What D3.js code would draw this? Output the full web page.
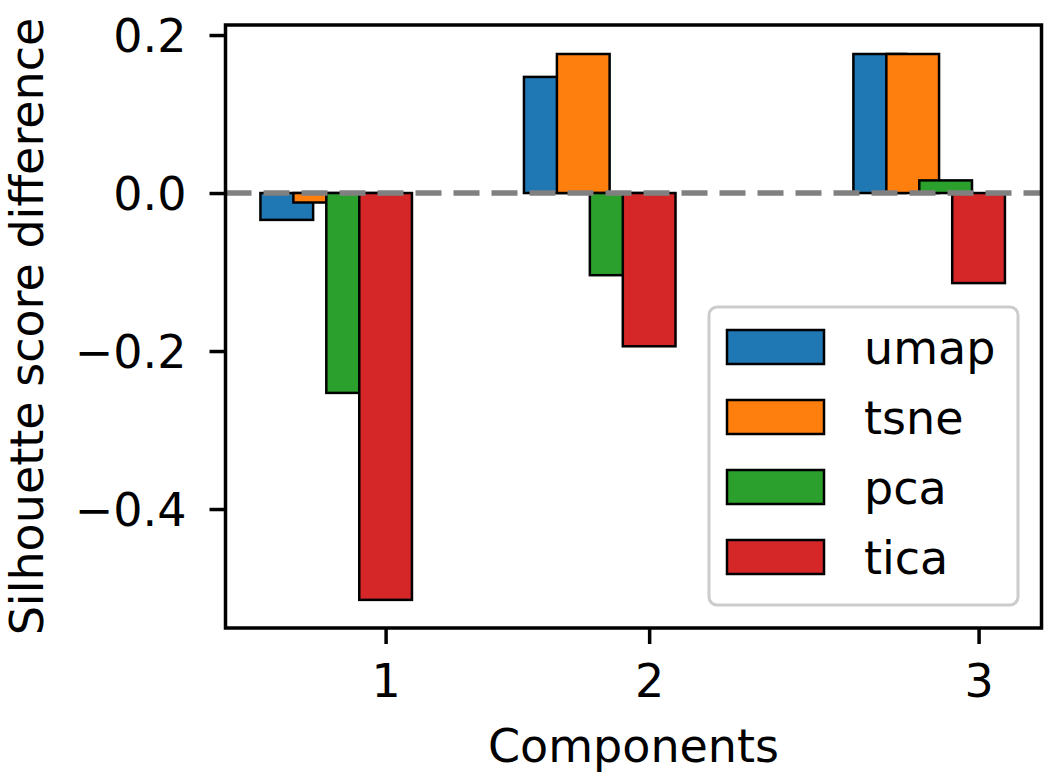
<!DOCTYPE html>
<html>
<head>
<meta charset="utf-8">
<script src="https://cdn.jsdelivr.net/npm/d3@7"></script>
<style>
  html, body { margin: 0; padding: 0; background: #fff; }
  svg { display: block; }
  text { font-family: "DejaVu Sans", sans-serif; fill: #000; }
</style>
</head>
<body>
<svg id="chart" width="1050" height="779"></svg>
<script>
// ---- data ----
const categories = ["1", "2", "3"];
const categoryPositions = [0, 4, 9];
const seriesNames = ["umap", "tsne", "pca", "tica"];
const seriesColors = ["#1f77b4", "#ff7f0e", "#2ca02c", "#d62728"];
const umapValues = [-0.034, 0.147, 0.176];
const tsneValues = [-0.012, 0.176, 0.176];
const pcaValues  = [-0.253, -0.104, 0.016];
const ticaValues = [-0.515, -0.194, -0.114];
const seriesValues = [umapValues, tsneValues, pcaValues, ticaValues];
const yTicks = [0.2, 0.0, -0.2, -0.4];

// ---- layout ----
const svg = d3.select("#chart");
const pL = 225.5, pR = 1041.5, pT = 25, pB = 628;
const barWidth = 0.8, barStep = 0.5;

const x = d3.scaleLinear().domain([-2.43, 9.955]).range([pL, pR]);
const y = d3.scaleLinear().domain([-0.5506, 0.2127]).range([pB, pT]);

// bars
seriesValues.forEach((vals, si) => {
  const off = (si - 3) * barStep;
  svg.append("g").selectAll("rect")
    .data(vals)
    .join("rect")
    .attr("x", (d, i) => x(categoryPositions[i] + off - barWidth / 2))
    .attr("width", x(barWidth) - x(0))
    .attr("y", d => y(Math.max(0, d)))
    .attr("height", d => Math.abs(y(d) - y(0)))
    .attr("fill", seriesColors[si])
    .attr("stroke", "#000")
    .attr("stroke-width", 2.5);
});

// zero dashed line
svg.append("line")
  .attr("x1", pL).attr("x2", pR)
  .attr("y1", y(0)).attr("y2", y(0))
  .attr("stroke", "#808080")
  .attr("stroke-width", 5.5)
  .attr("stroke-dasharray", "26,12");

// axes
const yAxis = d3.axisLeft(y)
  .tickValues(yTicks)
  .tickFormat(d3.format(".1f"))
  .tickSizeInner(16).tickSizeOuter(0).tickPadding(23);
const gy = svg.append("g").attr("transform", `translate(${pL},0)`).call(yAxis);
gy.select(".domain").remove();
gy.selectAll(".tick line").attr("stroke-width", 3.5);
gy.selectAll(".tick text").style("font-size", "46px").attr("dy", "0.36em");

const xAxis = d3.axisBottom(x)
  .tickValues(categoryPositions)
  .tickFormat((d, i) => categories[i])
  .tickSizeInner(16).tickSizeOuter(0).tickPadding(18);
const gx = svg.append("g").attr("transform", `translate(0,${pB})`).call(xAxis);
gx.select(".domain").remove();
gx.selectAll(".tick line").attr("stroke-width", 3.5);
gx.selectAll(".tick text").style("font-size", "46px").attr("dy", "0.76em");

// spines
svg.append("rect")
  .attr("x", pL).attr("y", pT)
  .attr("width", pR - pL).attr("height", pB - pT)
  .attr("fill", "none").attr("stroke", "#000").attr("stroke-width", 3.5);

// axis labels
svg.append("text")
  .attr("transform", `translate(43,${(pT + pB) / 2}) rotate(-90)`)
  .attr("text-anchor", "middle")
  .style("font-size", "46px")
  .text("Silhouette score difference");

svg.append("text")
  .attr("x", (pL + pR) / 2)
  .attr("y", 762)
  .attr("text-anchor", "middle")
  .style("font-size", "46px")
  .text("Components");

// legend
const lg = svg.append("g");
lg.append("rect")
  .attr("x", 709).attr("y", 307)
  .attr("width", 309).attr("height", 298)
  .attr("rx", 8).attr("ry", 8)
  .attr("fill", "#fff").attr("fill-opacity", 0.8)
  .attr("stroke", "#cccccc").attr("stroke-width", 3);
seriesNames.forEach((name, i) => {
  const cy = 347 + i * 70;
  lg.append("rect")
    .attr("x", 727).attr("y", cy - 17)
    .attr("width", 97).attr("height", 34)
    .attr("fill", seriesColors[i])
    .attr("stroke", "#000").attr("stroke-width", 2.5);
  lg.append("text")
    .attr("x", 864).attr("y", cy)
    .attr("dy", "0.36em")
    .style("font-size", "46px")
    .text(name);
});
</script>
</body>
</html>
